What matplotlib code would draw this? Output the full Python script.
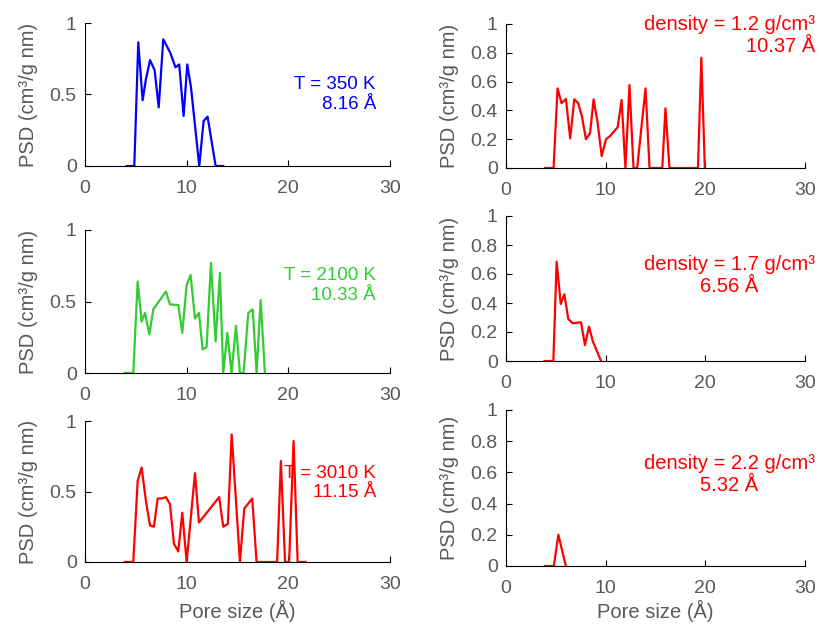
import matplotlib.pyplot as plt

plt.rcParams["font.family"] = ["Liberation Sans", "DejaVu Sans"]

# pore size distributions vs temperature (left column)
x_350 = [4.1, 4.85, 5.24, 5.67, 6.0, 6.4, 6.85, 7.25, 7.7, 8.4, 8.9, 9.27, 9.7,
         10.06, 10.42, 11.24, 11.67, 12.06, 12.85, 13.6]
psd_350 = [0, 0, 0.865, 0.46, 0.61, 0.74, 0.67, 0.41, 0.886, 0.79, 0.69, 0.71, 0.35,
           0.71, 0.555, 0, 0.315, 0.345, 0, 0]

x_2100 = [3.9, 4.75, 5.18, 5.57, 5.9, 6.33, 6.72, 7.96, 8.36, 9.18, 9.57, 10.0,
          10.39, 10.82, 11.21, 11.57, 11.96, 12.39, 12.85, 13.27, 13.6, 14.0,
          14.42, 14.85, 15.24, 15.6, 16.06, 16.5, 16.88, 17.28, 17.7]
psd_2100 = [0, 0, 0.64, 0.36, 0.42, 0.27, 0.445, 0.57, 0.48, 0.475, 0.28, 0.615,
            0.685, 0.38, 0.42, 0.165, 0.18, 0.77, 0.22, 0.70, 0, 0.28,
            0, 0.33, 0, 0, 0.42, 0.445, 0, 0.51, 0]

x_3010 = [3.93, 4.75, 5.18, 5.57, 6.0, 6.39, 6.78, 7.15, 7.54, 7.96, 8.36, 8.75,
          9.18, 9.57, 10.0, 10.82, 11.21, 13.2, 13.6, 14.05, 14.43, 15.24, 15.67,
          16.45, 16.88, 18.9, 19.27, 19.68, 20.08, 20.52, 20.92, 21.7]
psd_3010 = [0, 0, 0.574, 0.67, 0.43, 0.26, 0.25, 0.45, 0.45, 0.46, 0.41, 0.13,
            0.075, 0.35, 0, 0.63, 0.28, 0.46, 0.25, 0.27, 0.905, 0, 0.38,
            0.45, 0, 0, 0.716, 0, 0, 0.858, 0, 0]

# pore size distributions vs density (right column)
x_d12 = [3.93, 4.77, 5.17, 5.57, 6.01, 6.44, 6.85, 7.25, 7.62, 8.02, 8.43, 8.79,
         9.2, 9.6, 10.04, 10.44, 11.2, 11.6, 11.98, 12.39, 12.79, 13.16, 14.0,
         14.4, 15.68, 16.0, 16.4, 19.26, 19.6, 19.95]
psd_d12 = [0, 0, 0.553, 0.45, 0.48, 0.206, 0.477, 0.45, 0.357, 0.20, 0.24, 0.477,
           0.31, 0.083, 0.2, 0.222, 0.283, 0.472, 0, 0.576, 0, 0, 0.553,
           0, 0, 0.415, 0, 0, 0.766, 0]

x_d17 = [3.85, 4.75, 5.08, 5.49, 5.85, 6.25, 6.69, 7.52, 7.92, 8.33, 8.7, 9.53]
psd_d17 = [0, 0, 0.685, 0.393, 0.46, 0.29, 0.26, 0.267, 0.11, 0.237, 0.138, 0]

x_d22 = [3.9, 4.8, 5.25, 6.0]
psd_d22 = [0, 0, 0.2, 0]

gray = "#595959"
fs = 14.5
fs_left = 13.5

fig = plt.figure(figsize=(8.22, 6.25), dpi=100)


def make_axes(rect, yticks, yticklabels):
    ax = fig.add_axes(rect)
    ax.set_xlim(0, 30)
    ax.set_ylim(0, 1)
    ax.set_xticks([0, 10, 20, 30])
    ax.set_yticks(yticks)
    ax.set_yticklabels(yticklabels)
    ax.spines["top"].set_visible(False)
    ax.spines["right"].set_visible(False)
    ax.tick_params(direction="in", length=4, labelsize=14, labelcolor=gray)
    ax.tick_params(axis="x", pad=10)
    ax.tick_params(axis="y", pad=6)
    ax.set_ylabel("PSD (cm³/g nm)", fontsize=fs, color=gray, labelpad=8)
    return ax


left_ticks = [0, 0.5, 1]
left_labels = ["0", "0.5", "1"]
right_ticks = [0, 0.2, 0.4, 0.6, 0.8, 1]
right_labels = ["0", "0.2", "0.4", "0.6", "0.8", "1"]

ax1 = make_axes([0.1034, 0.7344, 0.371, 0.2288], left_ticks, left_labels)
ax1.plot(x_350, psd_350, color="#0000ff", lw=1.6)
ax1.text(0.954, 0.50, "T = 350 K\n8.16 Å", transform=ax1.transAxes, color="#0000ff",
         fontsize=fs_left, ha="right", va="center", multialignment="right")

ax2 = make_axes([0.1034, 0.4032, 0.371, 0.2288], left_ticks, left_labels)
ax2.plot(x_2100, psd_2100, color="#33cc33", lw=1.6)
ax2.text(0.954, 0.61, "T = 2100 K\n10.33 Å", transform=ax2.transAxes, color="#33cc33",
         fontsize=fs_left, ha="right", va="center", multialignment="right")

ax3 = make_axes([0.1034, 0.1008, 0.371, 0.2256], left_ticks, left_labels)
ax3.plot(x_3010, psd_3010, color="#ff0000", lw=1.6)
ax3.text(0.954, 0.56, "T = 3010 K\n11.15 Å", transform=ax3.transAxes, color="#ff0000",
         fontsize=fs_left, ha="right", va="center", multialignment="right")
ax3.set_xlabel("Pore size (Å)", fontsize=fs, color=gray, labelpad=5)

ax4 = make_axes([0.6156, 0.7312, 0.3637, 0.2304], right_ticks, right_labels)
ax4.plot(x_d12, psd_d12, color="#ff0000", lw=1.6)
ax4.text(1.033, 0.92, "density = 1.2 g/cm³\n10.37 Å", transform=ax4.transAxes,
         color="#ff0000", fontsize=fs, ha="right", va="center", multialignment="right")

ax5 = make_axes([0.6156, 0.4224, 0.3637, 0.232], right_ticks, right_labels)
ax5.plot(x_d17, psd_d17, color="#ff0000", lw=1.6)
ax5.text(1.033, 0.593, "density = 1.7 g/cm³\n6.56 Å", transform=ax5.transAxes,
         color="#ff0000", fontsize=fs, ha="right", va="center", multialignment="center")

ax6 = make_axes([0.6156, 0.0944, 0.3637, 0.2496], right_ticks, right_labels)
ax6.plot(x_d22, psd_d22, color="#ff0000", lw=1.6)
ax6.text(1.033, 0.587, "density = 2.2 g/cm³\n5.32 Å", transform=ax6.transAxes,
         color="#ff0000", fontsize=fs, ha="right", va="center", multialignment="center")
ax6.set_xlabel("Pore size (Å)", fontsize=fs, color=gray, labelpad=2)

fig.savefig("out.png", dpi=100)
